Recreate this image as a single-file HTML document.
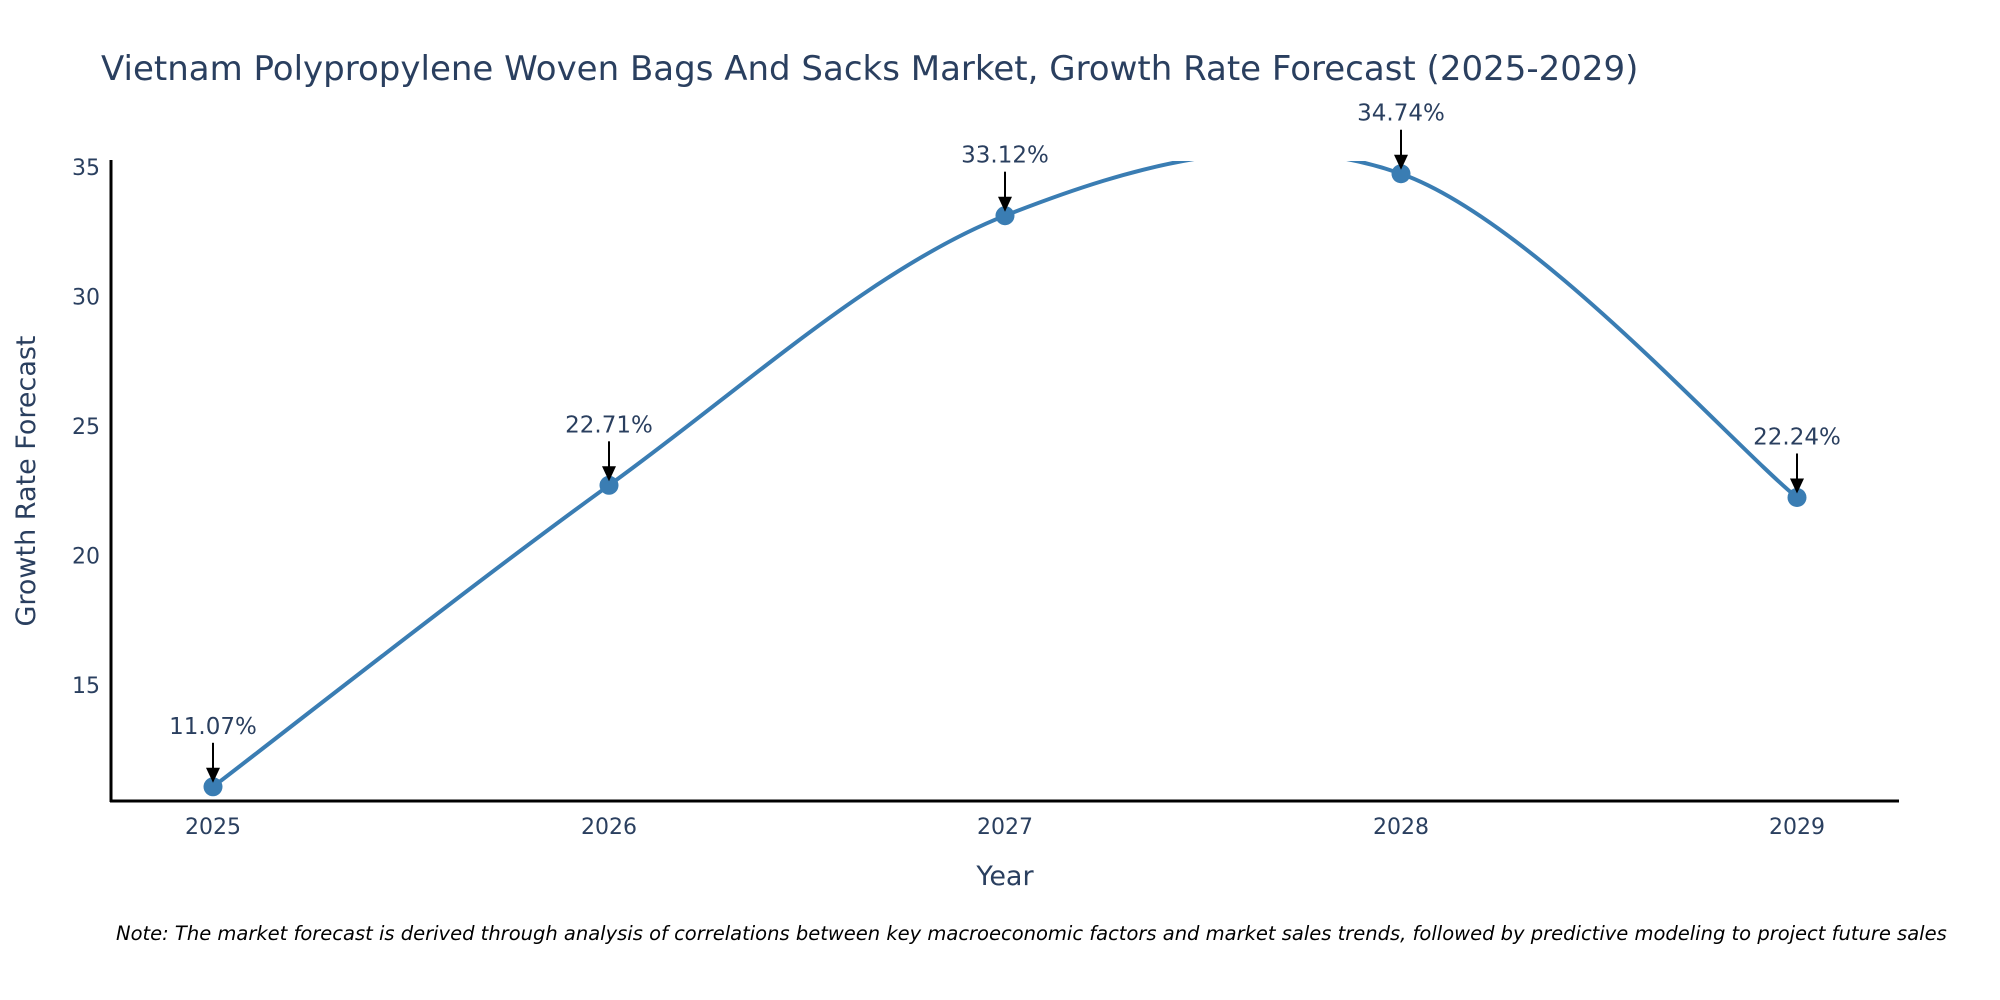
<!DOCTYPE html>
<html><head><meta charset="utf-8"><style>
html,body{margin:0;padding:0;background:#fff;width:2000px;height:1000px;overflow:hidden}
svg{display:block;font-family:"DejaVu Sans","Liberation Sans",sans-serif}
</style></head><body>
<svg id="chart" width="2000" height="1000" viewBox="0 0 2000 1000">
<defs>
<clipPath id="plotclip"><rect x="111" y="161" width="1788" height="640"/></clipPath>
</defs>
<text x="101" y="80" font-size="34" fill="#2a3f5f">Vietnam Polypropylene Woven Bags And Sacks Market, Growth Rate Forecast (2025-2029)</text>
<g id="yticks"></g>
<g id="xticks"></g>
<line x1="111" y1="160" x2="111" y2="802" stroke="#000" stroke-width="3"/>
<line x1="110" y1="801" x2="1899" y2="801" stroke="#000" stroke-width="3"/>
<g clip-path="url(#plotclip)"><path id="series-line" fill="none" stroke="#3a7db3" stroke-width="4"/></g>
<g id="points"></g>
<g id="annotations"></g>
<text x="1005" y="885" font-size="27" fill="#2a3f5f" text-anchor="middle">Year</text>
<text transform="translate(35,481) rotate(-90)" font-size="27" fill="#2a3f5f" text-anchor="middle">Growth Rate Forecast</text>
<text x="116" y="940" font-size="19.5" font-style="italic" fill="#000">Note: The market forecast is derived through analysis of correlations between key macroeconomic factors and market sales trends, followed by predictive modeling to project future sales</text>
</svg>
<script>
const years = [2025, 2026, 2027, 2028, 2029];
const growth = [11.07, 22.71, 33.12, 34.74, 22.24];
const labels = ["11.07%", "22.71%", "33.12%", "34.74%", "22.24%"];
const yTicks = [15, 20, 25, 30, 35];

const NS = "http://www.w3.org/2000/svg";
const X = v => 213 + (v - 2025) * 396;
const Y = v => 167 + (35 - v) * 25.9;

const yg = document.getElementById('yticks');
yTicks.forEach(t => {
  const el = document.createElementNS(NS, 'text');
  
  
  el.setAttribute('x', 100); el.setAttribute('y', Y(t) + 8);
  el.setAttribute('text-anchor', 'end'); el.setAttribute('font-size', '22'); el.setAttribute('fill', '#2a3f5f');
  el.textContent = t; yg.appendChild(el);
});
const xg = document.getElementById('xticks');
years.forEach(t => {
  const el = document.createElementNS(NS, 'text');
  
  
  el.setAttribute('x', X(t)); el.setAttribute('y', 834);
  el.setAttribute('text-anchor', 'middle'); el.setAttribute('font-size', '22'); el.setAttribute('fill', '#2a3f5f');
  el.textContent = t; xg.appendChild(el);
});

const P = years.map((y, i) => [X(y), Y(growth[i])]);
let d = `M${P[0][0]},${P[0][1]}`;
const k = 1 / 6;
for (let i = 0; i < P.length - 1; i++) {
  const p0 = P[Math.max(0, i - 1)], p1 = P[i], p2 = P[i + 1], p3 = P[Math.min(P.length - 1, i + 2)];
  const c1 = [p1[0] + (p2[0] - p0[0]) * k, p1[1] + (p2[1] - p0[1]) * k];
  const c2 = [p2[0] - (p3[0] - p1[0]) * k, p2[1] - (p3[1] - p1[1]) * k];
  d += ` C${c1[0]},${c1[1]} ${c2[0]},${c2[1]} ${p2[0]},${p2[1]}`;
}
document.getElementById('series-line').setAttribute('d', d);

const pg = document.getElementById('points');
const ag = document.getElementById('annotations');
P.forEach((p, i) => {
  const c = document.createElementNS(NS, 'circle');
  
  
  c.setAttribute('cx', p[0]); c.setAttribute('cy', p[1]); c.setAttribute('r', 9.5);
  c.setAttribute('fill', '#3a7db3');
  pg.appendChild(c);

  const ln = document.createElementNS(NS, 'line');
  
  
  ln.setAttribute('x1', p[0]); ln.setAttribute('y1', p[1] - 44);
  ln.setAttribute('x2', p[0]); ln.setAttribute('y2', p[1] - 14);
  ln.setAttribute('stroke', '#000'); ln.setAttribute('stroke-width', '2');
  ag.appendChild(ln);
  const hd = document.createElementNS(NS, 'polygon');
  
  
  hd.setAttribute('points', `${p[0]-7},${p[1]-19} ${p[0]+7},${p[1]-19} ${p[0]},${p[1]-4}`);
  hd.setAttribute('fill', '#000');
  ag.appendChild(hd);

  const t = document.createElementNS(NS, 'text');
  
  
  t.setAttribute('x', p[0]); t.setAttribute('y', p[1] - 53);
  t.setAttribute('text-anchor', 'middle'); t.setAttribute('font-size', '23'); t.setAttribute('fill', '#2a3f5f');
  t.textContent = labels[i];
  ag.appendChild(t);
});
</script>
</body></html>
